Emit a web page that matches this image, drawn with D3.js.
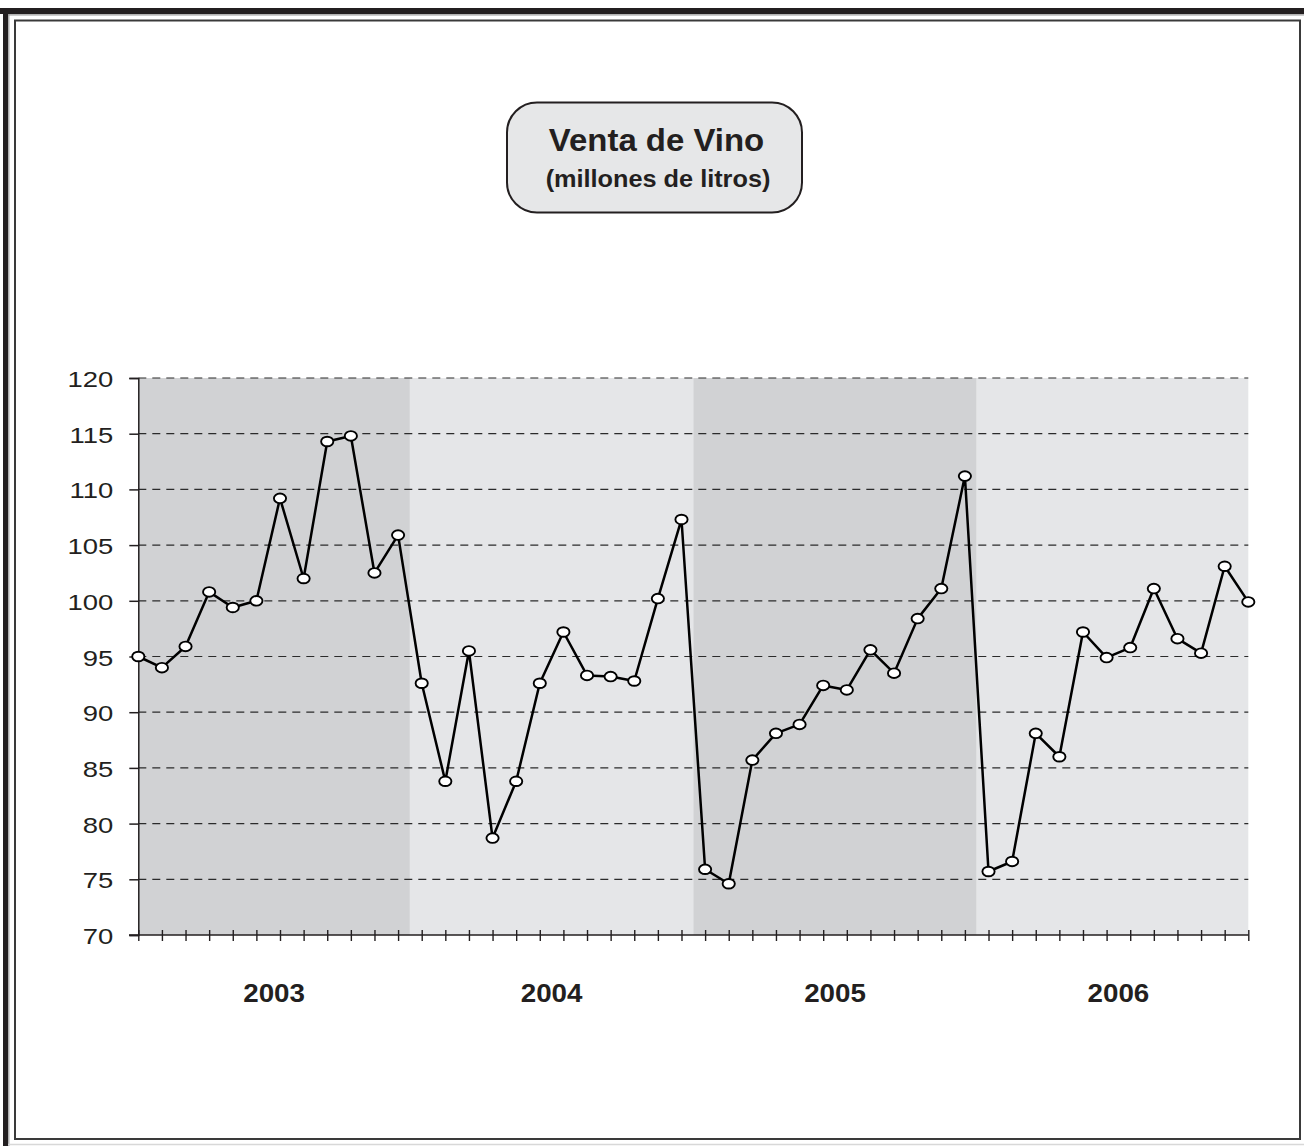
<!DOCTYPE html>
<html>
<head>
<meta charset="utf-8">
<script src="https://cdn.jsdelivr.net/npm/d3@7/dist/d3.min.js"></script>
<style>
  html, body { margin: 0; padding: 0; background: #ffffff; }
  svg { display: block; }
  text { font-family: "Liberation Sans", Arial, sans-serif; fill: #231f20; }
</style>
</head>
<body>
<svg id="chart" width="1304" height="1146"></svg>
<script>
// Monthly wine sales, millions of litres, Jan 2003 – Dec 2006
const years = ["2003", "2004", "2005", "2006"];
const monthsPerYear = 12;
const ventas2003 = [95.0, 94.0, 95.9, 100.8, 99.4, 100.0, 109.2, 102.0, 114.3, 114.8, 102.5, 105.9];
const ventas2004 = [92.6, 83.8, 95.5, 78.7, 83.8, 92.6, 97.2, 93.3, 93.2, 92.8, 100.2, 107.3];
const ventas2005 = [75.9, 74.6, 85.7, 88.1, 88.9, 92.4, 92.0, 95.6, 93.5, 98.4, 101.1, 111.2];
const ventas2006 = [75.7, 76.6, 88.1, 86.0, 97.2, 94.9, 95.8, 101.1, 96.6, 95.3, 103.1, 99.9];
const yTicks = [70, 75, 80, 85, 90, 95, 100, 105, 110, 115, 120];
const title = "Venta de Vino";
const subtitle = "(millones de litros)";

const series = [ventas2003, ventas2004, ventas2005, ventas2006].flat();
const idx = d3.range(series.length);

const svg = d3.select("#chart");
const W = 1304, H = 1146;

// Outer frame
svg.append("rect").attr("x", 0).attr("y", 8).attr("width", W).attr("height", 6).attr("fill", "#231f20");
svg.append("rect").attr("x", 3).attr("y", 8).attr("width", 5).attr("height", H - 8).attr("fill", "#231f20");
svg.append("line").attr("x1", 8).attr("x2", W).attr("y1", 14.8).attr("y2", 14.8)
  .attr("stroke", "#9a9a9a").attr("stroke-width", 1.2);
svg.append("line").attr("x1", 8.8).attr("x2", 8.8).attr("y1", 14).attr("y2", H)
  .attr("stroke", "#9a9a9a").attr("stroke-width", 1.2);
svg.append("rect").attr("x", 15).attr("y", 20.5).attr("width", 1285).attr("height", 1118.5)
  .attr("fill", "none").attr("stroke", "#3a3a3a").attr("stroke-width", 2);
svg.append("line").attr("x1", 8).attr("x2", W).attr("y1", 1144.5).attr("y2", 1144.5)
  .attr("stroke", "#d8d8d8").attr("stroke-width", 1.5);

// Scales
const x = d3.scaleLinear().domain([0, series.length - 1]).range([138.3, 1248.3]);
const y = d3.scaleLinear().domain([70, 120]).range([935, 378]);

// Alternating year bands
const bandFill = ["#d1d2d4", "#e5e6e8"];
years.forEach((yr, i) => {
  const a = Math.max(0, i * monthsPerYear - 0.5);
  const b = Math.min(series.length - 1, (i + 1) * monthsPerYear - 0.5);
  svg.append("rect")
    .attr("x", x(a)).attr("y", y(120))
    .attr("width", x(b) - x(a)).attr("height", y(70) - y(120))
    .attr("fill", bandFill[i % 2]);
});

// Dashed gridlines
svg.append("g").selectAll("line").data(yTicks.filter(v => v > 70)).join("line")
  .attr("x1", x(0)).attr("x2", x(series.length - 1))
  .attr("y1", d => y(d)).attr("y2", d => y(d))
  .attr("stroke", "#2b2b2b").attr("stroke-width", 1.2).attr("stroke-dasharray", "8,6");

// Y axis
const yAxis = d3.axisLeft(y).tickValues(yTicks).tickSize(9).tickPadding(0).tickFormat(d3.format("d"));
const gy = svg.append("g").attr("transform", `translate(${x(0)},0)`).call(yAxis);
gy.select(".domain").attr("stroke", "#231f20").attr("stroke-width", 1.5);
gy.selectAll(".tick line").attr("stroke", "#231f20").attr("stroke-width", 1.5);
gy.selectAll(".tick text").remove();
gy.selectAll(".tick").append("text")
  .attr("transform", "translate(-25,8.5) scale(1.22,1)")
  .attr("text-anchor", "end")
  .attr("font-size", 22.5)
  .attr("fill", "#231f20")
  .text(d => d);

// X axis with a tick at every month, crossing the axis line
const xAxis = d3.axisBottom(x).tickValues(idx).tickSize(0).tickFormat("");
const gx = svg.append("g").attr("transform", `translate(0,${y(70)})`).call(xAxis);
gx.select(".domain").remove();
svg.append("line").attr("x1", 129).attr("x2", x(series.length - 1))
  .attr("y1", y(70)).attr("y2", y(70)).attr("stroke", "#231f20").attr("stroke-width", 1.6);
gx.selectAll(".tick line").attr("y1", -5).attr("y2", 6)
  .attr("stroke", "#231f20").attr("stroke-width", 1.4);

// Year labels
years.forEach((yr, i) => {
  const a = Math.max(0, i * monthsPerYear - 0.5);
  const b = (i + 1) * monthsPerYear - 0.5;
  svg.append("text")
    .attr("transform", `translate(${(x(a) + x(b)) / 2},1001.5) scale(1.11,1)`)
    .attr("text-anchor", "middle")
    .attr("font-size", 25)
    .attr("font-weight", "bold")
    .text(yr);
});

// Sales line
svg.append("path")
  .datum(series)
  .attr("fill", "none")
  .attr("stroke", "#000")
  .attr("stroke-width", 2.5)
  .attr("stroke-linejoin", "round")
  .attr("d", d3.line().x((d, i) => x(i)).y(d => y(d)));

// Markers
svg.append("g").selectAll("ellipse").data(series).join("ellipse")
  .attr("cx", (d, i) => x(i)).attr("cy", d => y(d))
  .attr("rx", 6.1).attr("ry", 4.8)
  .attr("fill", "#fff").attr("stroke", "#000").attr("stroke-width", 1.9);

// Title box
svg.append("rect")
  .attr("x", 507).attr("y", 102.5).attr("width", 295).attr("height", 110)
  .attr("rx", 30).attr("ry", 30)
  .attr("fill", "#e6e7e8").attr("stroke", "#231f20").attr("stroke-width", 2);
svg.append("text")
  .attr("transform", "translate(656.5,151) scale(1.08,1)")
  .attr("text-anchor", "middle").attr("font-size", 30.5).attr("font-weight", "bold")
  .text(title);
svg.append("text")
  .attr("transform", "translate(658,187) scale(1.1,1)")
  .attr("text-anchor", "middle").attr("font-size", 23).attr("font-weight", "bold")
  .text(subtitle);
</script>
</body>
</html>
